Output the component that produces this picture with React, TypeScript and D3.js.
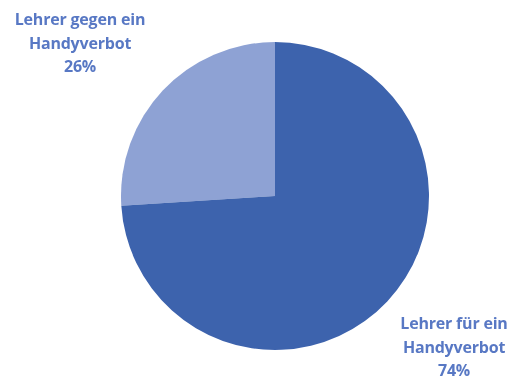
import React from "react";
import * as d3 from "d3";

const categories = ["Lehrer gegen ein Handyverbot", "Lehrer für ein Handyverbot"];
const labelLines = [
  ["Lehrer gegen ein", "Handyverbot"],
  ["Lehrer für ein", "Handyverbot"],
];
const values = [26, 74];

const colors = ["#8ea2d4", "#3e63ad"];
const textColor = "#5878c4";

const W = 515;
const H = 380;
const cx = 275;
const cy = 196;
const R = 154;

export default function App() {
  const total = d3.sum(values);
  const start = -(values[0] / total) * 2 * Math.PI;
  const pie = d3
    .pie<number>()
    .sort(null)
    .startAngle(start)
    .endAngle(start + 2 * Math.PI)(values);
  const arc = d3.arc<d3.PieArcDatum<number>>().innerRadius(0).outerRadius(R);
  const labelPos = [
    { x: 80, y: 25 },
    { x: 454, y: 329 },
  ];
  const lh = 23.5;
  return (
    <svg
      width={W}
      height={H}
      style={{ position: "absolute", left: 0, top: 0, background: "#fff" }}
    >
      <defs>
        <filter id="soft" x="-5%" y="-5%" width="110%" height="110%">
          <feGaussianBlur stdDeviation="0.7" />
        </filter>
      </defs>
      <g transform={`translate(${cx},${cy})`} filter="url(#soft)">
        {pie.map((d, i) => (
          <path key={categories[i]} d={arc(d) || ""} fill={colors[i]} />
        ))}
      </g>
      {labelPos.map((p, i) => (
        <text
          key={i}
          x={p.x}
          y={p.y}
          textAnchor="middle"
          fill={textColor}
          fontFamily="Open Sans, sans-serif"
          fontWeight="bold"
          fontSize={16}
          letterSpacing={-0.2}
          filter="url(#soft)"
        >
          {labelLines[i].map((l, j) => (
            <tspan key={j} x={p.x} dy={j === 0 ? 0 : lh}>
              {l}
            </tspan>
          ))}
          <tspan x={p.x} dy={lh}>
            {values[i]}%
          </tspan>
        </text>
      ))}
    </svg>
  );
}
